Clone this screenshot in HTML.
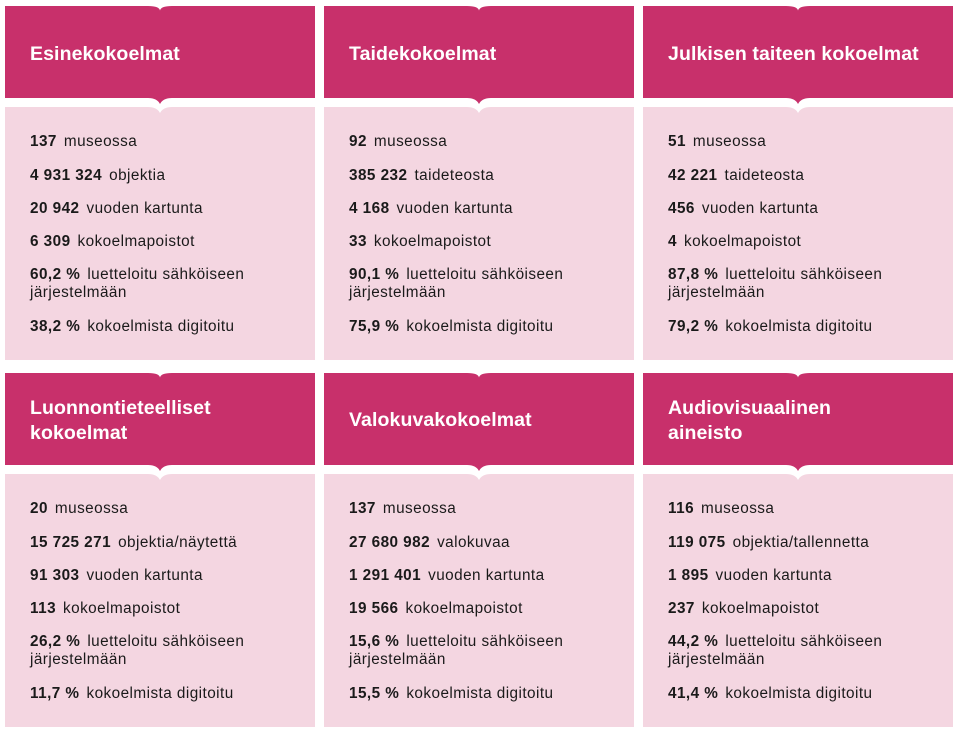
<!DOCTYPE html>
<html><head><meta charset="utf-8"><style>
body{margin:0;background:#fff;width:964px;height:735px;overflow:hidden}
svg text{font-family:"Liberation Sans",sans-serif}
.t{fill:#fff;font-weight:bold;font-size:19.5px;letter-spacing:0.1px}
.b{fill:#1a1a1a;font-size:15.3px;letter-spacing:0.45px}
.b tspan.n{font-weight:bold}
</style></head><body>
<svg width="964" height="735" xmlns="http://www.w3.org/2000/svg">
<defs>
<g id="card">
<path d="M0,0 H143 Q155,0 155,5 Q155,0 167,0 H310 V92 H167 Q158,92 155,98 Q152,92 143,92 H0 Z" fill="#c8306b"/>
<path d="M0,101 H143 Q152,101 155,107 Q158,101 167,101 H310 V354 H0 Z" fill="#f4d6e1"/>
</g>
</defs>
<use href="#card" x="5" y="6"/><use href="#card" x="324" y="6"/><use href="#card" x="643" y="6"/>
<use href="#card" x="5" y="373"/><use href="#card" x="324" y="373"/><use href="#card" x="643" y="373"/>

<text class="t" x="30" y="60">Esinekokoelmat</text>
<text class="t" x="349" y="60">Taidekokoelmat</text>
<text class="t" x="668" y="60">Julkisen taiteen kokoelmat</text>
<text class="t" x="30" y="414">Luonnontieteelliset</text><text class="t" x="30" y="439">kokoelmat</text>
<text class="t" x="349" y="426">Valokuvakokoelmat</text>
<text class="t" x="668" y="414">Audiovisuaalinen</text><text class="t" x="668" y="439">aineisto</text>

<g class="b">
<text x="30" y="146"><tspan class="n">137</tspan><tspan dx="7">museossa</tspan></text>
<text x="30" y="180"><tspan class="n">4 931 324</tspan><tspan dx="7">objektia</tspan></text>
<text x="30" y="213"><tspan class="n">20 942</tspan><tspan dx="7">vuoden kartunta</tspan></text>
<text x="30" y="246"><tspan class="n">6 309</tspan><tspan dx="7">kokoelmapoistot</tspan></text>
<text x="30" y="279"><tspan class="n">60,2 %</tspan><tspan dx="7">luetteloitu sähköiseen</tspan></text><text x="30" y="297">järjestelmään</text>
<text x="30" y="331"><tspan class="n">38,2 %</tspan><tspan dx="7">kokoelmista digitoitu</tspan></text>

<text x="349" y="146"><tspan class="n">92</tspan><tspan dx="7">museossa</tspan></text>
<text x="349" y="180"><tspan class="n">385 232</tspan><tspan dx="7">taideteosta</tspan></text>
<text x="349" y="213"><tspan class="n">4 168</tspan><tspan dx="7">vuoden kartunta</tspan></text>
<text x="349" y="246"><tspan class="n">33</tspan><tspan dx="7">kokoelmapoistot</tspan></text>
<text x="349" y="279"><tspan class="n">90,1 %</tspan><tspan dx="7">luetteloitu sähköiseen</tspan></text><text x="349" y="297">järjestelmään</text>
<text x="349" y="331"><tspan class="n">75,9 %</tspan><tspan dx="7">kokoelmista digitoitu</tspan></text>

<text x="668" y="146"><tspan class="n">51</tspan><tspan dx="7">museossa</tspan></text>
<text x="668" y="180"><tspan class="n">42 221</tspan><tspan dx="7">taideteosta</tspan></text>
<text x="668" y="213"><tspan class="n">456</tspan><tspan dx="7">vuoden kartunta</tspan></text>
<text x="668" y="246"><tspan class="n">4</tspan><tspan dx="7">kokoelmapoistot</tspan></text>
<text x="668" y="279"><tspan class="n">87,8 %</tspan><tspan dx="7">luetteloitu sähköiseen</tspan></text><text x="668" y="297">järjestelmään</text>
<text x="668" y="331"><tspan class="n">79,2 %</tspan><tspan dx="7">kokoelmista digitoitu</tspan></text>

<text x="30" y="513"><tspan class="n">20</tspan><tspan dx="7">museossa</tspan></text>
<text x="30" y="547"><tspan class="n">15 725 271</tspan><tspan dx="7">objektia/näytettä</tspan></text>
<text x="30" y="580"><tspan class="n">91 303</tspan><tspan dx="7">vuoden kartunta</tspan></text>
<text x="30" y="613"><tspan class="n">113</tspan><tspan dx="7">kokoelmapoistot</tspan></text>
<text x="30" y="646"><tspan class="n">26,2 %</tspan><tspan dx="7">luetteloitu sähköiseen</tspan></text><text x="30" y="664">järjestelmään</text>
<text x="30" y="698"><tspan class="n">11,7 %</tspan><tspan dx="7">kokoelmista digitoitu</tspan></text>

<text x="349" y="513"><tspan class="n">137</tspan><tspan dx="7">museossa</tspan></text>
<text x="349" y="547"><tspan class="n">27 680 982</tspan><tspan dx="7">valokuvaa</tspan></text>
<text x="349" y="580"><tspan class="n">1 291 401</tspan><tspan dx="7">vuoden kartunta</tspan></text>
<text x="349" y="613"><tspan class="n">19 566</tspan><tspan dx="7">kokoelmapoistot</tspan></text>
<text x="349" y="646"><tspan class="n">15,6 %</tspan><tspan dx="7">luetteloitu sähköiseen</tspan></text><text x="349" y="664">järjestelmään</text>
<text x="349" y="698"><tspan class="n">15,5 %</tspan><tspan dx="7">kokoelmista digitoitu</tspan></text>

<text x="668" y="513"><tspan class="n">116</tspan><tspan dx="7">museossa</tspan></text>
<text x="668" y="547"><tspan class="n">119 075</tspan><tspan dx="7">objektia/tallennetta</tspan></text>
<text x="668" y="580"><tspan class="n">1 895</tspan><tspan dx="7">vuoden kartunta</tspan></text>
<text x="668" y="613"><tspan class="n">237</tspan><tspan dx="7">kokoelmapoistot</tspan></text>
<text x="668" y="646"><tspan class="n">44,2 %</tspan><tspan dx="7">luetteloitu sähköiseen</tspan></text><text x="668" y="664">järjestelmään</text>
<text x="668" y="698"><tspan class="n">41,4 %</tspan><tspan dx="7">kokoelmista digitoitu</tspan></text>
</g>
</svg>
</body></html>
